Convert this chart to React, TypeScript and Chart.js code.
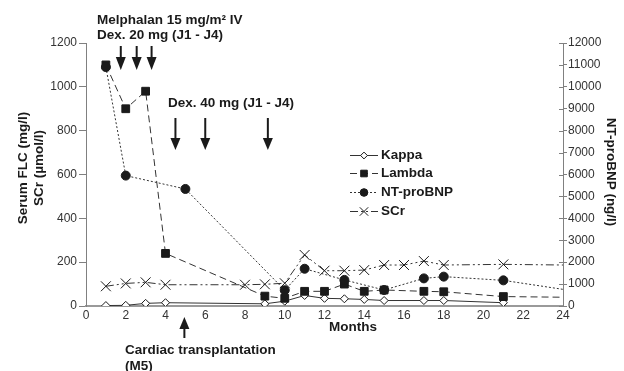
import React, { useEffect, useRef } from "react";
import { Chart, registerables } from "chart.js";
import { drawPoint } from "chart.js/helpers";
Chart.register(...registerables);

// ---- data ----
const kappaMonths = [1, 2, 3, 4, 9, 10, 11, 12, 13, 14, 15, 17, 18, 21];
const kappaValues = [2, 3, 12, 15, 10, 22, 48, 35, 33, 30, 25, 25, 25, 15];
const lambdaMonths = [1, 2, 3, 4, 9, 10, 11, 12, 13, 14, 15, 17, 18, 21, 24];
const lambdaValues = [1100, 900, 980, 240, 45, 35, 67, 67, 100, 67, 73, 67, 65, 43, 40];
const ntMonths = [1, 2, 5, 10, 11, 13, 15, 17, 18, 21, 24];
const ntValues = [10900, 5950, 5340, 720, 1700, 1190, 730, 1260, 1340, 1170, 760];
const scrMonths = [1, 2, 3, 4, 8, 9, 10, 11, 12, 13, 14, 15, 16, 17, 18, 21, 24];
const scrValues = [90, 103, 108, 97, 97, 99, 104, 233, 161, 161, 164, 187, 187, 205, 187, 190, 187];
const seriesNames = ["Kappa", "Lambda", "NT-proBNP", "SCr"];
const lastMonth = 24; // line continues to this month without a marker

const melphalanArrowMonths = [1.75, 2.55, 3.3];
const dex40ArrowMonths = [4.5, 6, 9.15];
const transplantMonth = 4.95;

const FONT = "'Liberation Sans', Arial, sans-serif";
const INK = "#1a1a1a";
const LINE = "#333333";

const styles = [
  { pointStyle: "rectRot", radius: 4, fill: "#ffffff", dash: [] as number[], axis: "y" },
  { pointStyle: "rect", radius: 5.5, fill: INK, dash: [7, 4], axis: "y" },
  { pointStyle: "circle", radius: 4.5, fill: INK, dash: [2, 2], axis: "y1" },
  { pointStyle: "crossRot", radius: 7, fill: INK, dash: [8, 3, 2, 3, 2, 3], axis: "y" },
];

const toPoints = (xs: number[], ys: number[]) => xs.map((x, i) => ({ x, y: ys[i] }));

function arrowDown(ctx: CanvasRenderingContext2D, x: number, top: number, bottom: number, head: number) {
  ctx.beginPath();
  ctx.moveTo(x, top);
  ctx.lineTo(x, bottom - head + 2);
  ctx.lineWidth = 2;
  ctx.strokeStyle = INK;
  ctx.stroke();
  ctx.beginPath();
  ctx.moveTo(x - 5, bottom - head);
  ctx.lineTo(x + 5, bottom - head);
  ctx.lineTo(x, bottom);
  ctx.closePath();
  ctx.fillStyle = INK;
  ctx.fill();
}

function arrowUp(ctx: CanvasRenderingContext2D, x: number, top: number, bottom: number, head: number) {
  ctx.beginPath();
  ctx.moveTo(x, bottom);
  ctx.lineTo(x, top + head - 2);
  ctx.lineWidth = 2;
  ctx.strokeStyle = INK;
  ctx.stroke();
  ctx.beginPath();
  ctx.moveTo(x - 5, top + head);
  ctx.lineTo(x + 5, top + head);
  ctx.lineTo(x, top);
  ctx.closePath();
  ctx.fillStyle = INK;
  ctx.fill();
}

const overlayPlugin = {
  id: "overlay",
  afterDraw(chart: any) {
    const ctx: CanvasRenderingContext2D = chart.ctx;
    const xs = chart.scales.x;
    const y1 = chart.scales.y1;
    const area = chart.chartArea;
    ctx.save();

    // inward ticks on right axis
    ctx.strokeStyle = "#808080";
    ctx.lineWidth = 1;
    y1.ticks.forEach((t: any) => {
      const py = Math.round(y1.getPixelForValue(t.value)) + 0.5;
      ctx.beginPath();
      ctx.moveTo(area.right - 4, py);
      ctx.lineTo(area.right, py);
      ctx.stroke();
    });

    const bold = `bold 13.5px ${FONT}`;
    ctx.fillStyle = INK;
    ctx.font = bold;
    ctx.textBaseline = "middle";
    ctx.textAlign = "left";

    // top annotations
    ctx.fillText("Melphalan 15 mg/m\u00B2 IV", 97, 20);
    ctx.fillText("Dex. 20 mg (J1 - J4)", 97, 35);
    ctx.fillText("Dex. 40 mg (J1 - J4)", 168, 103);
    melphalanArrowMonths.forEach((m) => arrowDown(ctx, xs.getPixelForValue(m), 46, 70, 13));
    dex40ArrowMonths.forEach((m) => arrowDown(ctx, xs.getPixelForValue(m), 118, 150, 12));

    // bottom annotation
    arrowUp(ctx, xs.getPixelForValue(transplantMonth), 317, 338, 12);
    ctx.fillStyle = INK;
    ctx.textAlign = "left";
    ctx.fillText("Cardiac transplantation", 125, 350);
    ctx.fillText("(M5)", 125, 366);

    // x title
    ctx.textAlign = "center";
    ctx.fillText("Months", 353, 327);

    // left title
    ctx.save();
    ctx.translate(30, 168);
    ctx.rotate(-Math.PI / 2);
    ctx.textAlign = "center";
    ctx.fillText("Serum FLC (mg/l)", 0, -7);
    ctx.fillText("SCr (\u00B5mol/l)", 0, 9);
    ctx.restore();

    // right title
    ctx.save();
    ctx.translate(611, 172);
    ctx.rotate(Math.PI / 2);
    ctx.textAlign = "center";
    ctx.fillText("NT-proBNP (ng/l)", 0, 0);
    ctx.restore();

    // legend
    const rowsY = [155, 173, 192, 211];
    seriesNames.forEach((name, i) => {
      const s = styles[i];
      const y = rowsY[i];
      ctx.save();
      ctx.strokeStyle = LINE;
      ctx.lineWidth = 1;
      ctx.setLineDash(s.dash);
      ctx.beginPath();
      ctx.moveTo(350, y + 0.5);
      ctx.lineTo(378, y + 0.5);
      ctx.stroke();
      ctx.setLineDash([]);
      ctx.fillStyle = s.fill;
      ctx.strokeStyle = INK;
      drawPoint(ctx, { pointStyle: s.pointStyle, radius: s.radius * 0.85, rotation: 0, borderWidth: 1 } as any, 364, y + 0.5);
      ctx.restore();
      ctx.fillStyle = INK;
      ctx.textAlign = "left";
      ctx.fillText(name, 381, y);
    });

    ctx.restore();
  },
};

export default function App() {
  const ref = useRef<HTMLCanvasElement | null>(null);
  useEffect(() => {
    document.body.style.margin = "0";
    if (!ref.current) return;
    const all = [
      toPoints(kappaMonths, kappaValues),
      toPoints(lambdaMonths, lambdaValues),
      toPoints(ntMonths, ntValues),
      toPoints(scrMonths, scrValues),
    ];
    const chart = new Chart(ref.current, {
      type: "line",
      data: {
        datasets: all.map((pts, i) => ({
          label: seriesNames[i],
          data: pts,
          yAxisID: styles[i].axis,
          borderColor: LINE,
          borderWidth: 1,
          borderDash: styles[i].dash,
          pointStyle: styles[i].pointStyle as any,
          pointRadius: (c: any) => (c.raw && c.raw.x === lastMonth ? 0 : styles[i].radius),
          pointBackgroundColor: styles[i].fill,
          pointBorderColor: INK,
          pointBorderWidth: 1,
          tension: 0,
          fill: false,
          order: 4 - i,
        })),
      },
      options: {
        animation: false,
        responsive: false,
        devicePixelRatio: 1,
        layout: { padding: { top: 43, left: 0, right: 0, bottom: 0 } },
        plugins: { legend: { display: false }, tooltip: { enabled: false } },
        font: { family: FONT },
        scales: {
          x: {
            type: "linear",
            min: 0,
            max: 24,
            ticks: { stepSize: 2, color: "#333", font: { family: FONT, size: 12 }, padding: 2, maxRotation: 0, callback: (v: any) => String(v) },
            grid: { display: true, drawOnChartArea: false, drawTicks: false },
            border: { display: true, color: "#9a9a9a", width: 2 },
            afterFit: (s: any) => { s.height = 65; },
          },
          y: {
            position: "left",
            min: 0,
            max: 1200,
            ticks: { stepSize: 200, color: "#333", font: { family: FONT, size: 12 }, padding: 2, callback: (v: any) => String(v) },
            grid: { display: true, drawOnChartArea: false, drawTicks: true, tickLength: 7, color: "#808080" },
            border: { display: true, color: "#808080", width: 1 },
            afterFit: (s: any) => { s.width = 86; },
          },
          y1: {
            position: "right",
            min: 0,
            max: 12000,
            ticks: { stepSize: 1000, color: "#333", font: { family: FONT, size: 12 }, padding: 1, callback: (v: any) => String(v) },
            grid: { display: true, drawOnChartArea: false, drawTicks: true, tickLength: 4, color: "#808080" },
            border: { display: true, color: "#808080", width: 1 },
            afterFit: (s: any) => { s.width = 61; },
          },
        },
      } as any,
      plugins: [overlayPlugin],
    });
    return () => chart.destroy();
  }, []);
  return (
    <div style={{ width: 624, height: 371, background: "#fff" }}>
      <canvas ref={ref} width={624} height={371} />
    </div>
  );
}
